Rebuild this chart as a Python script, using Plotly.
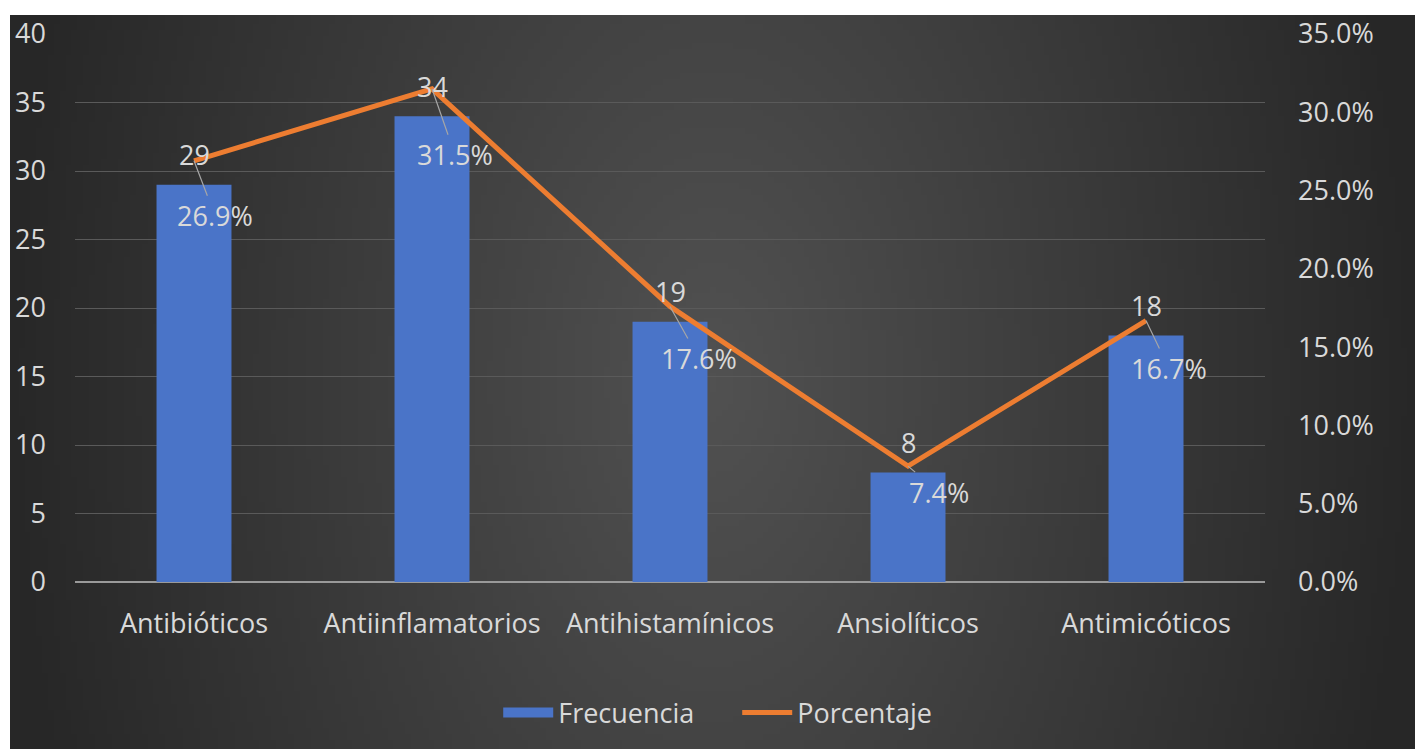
import base64
import struct
import zlib
import plotly.graph_objects as go

# ---- data ----
categories = ["Antibióticos", "Antiinflamatorios", "Antihistamínicos", "Ansiolíticos", "Antimicóticos"]
frecuencia = [29, 34, 19, 8, 18]
porcentaje = [0.269, 0.315, 0.176, 0.074, 0.167]
left_ticks = [0, 5, 10, 15, 20, 25, 30, 35, 40]
right_ticks = [0, 0.05, 0.10, 0.15, 0.20, 0.25, 0.30, 0.35]

# label offsets (pixels) for the percentage data labels
pct_label_dx = [21, 23, 29, 31, 23]
pct_label_dy = [55, 66, 52, 26, 48]

FONT = "Open Sans"
FS = 27
TXT = "#d9d9d9"
BLUE = "#4a74c8"


def radial_png(w=240, h=120):
    rows = []
    for j in range(h):
        row = bytearray([0])
        dy = (j + 0.5) / h * 2 - 1
        for i in range(w):
            dx = (i + 0.5) / w * 2 - 1
            r = min(1.0, (dx * dx + (dy * 0.32) ** 2) ** 0.5)
            v = int(round(81 - 42 * r))
            row += bytes([v, v, v])
        rows.append(bytes(row))
    raw = b"".join(rows)

    def chunk(tag, data):
        c = struct.pack(">I", len(data)) + tag + data
        return c + struct.pack(">I", zlib.crc32(tag + data) & 0xFFFFFFFF)

    png = b"\x89PNG\r\n\x1a\n"
    png += chunk(b"IHDR", struct.pack(">IIBBBBB", w, h, 8, 2, 0, 0, 0))
    png += chunk(b"IDAT", zlib.compress(raw, 9))
    png += chunk(b"IEND", b"")
    return "data:image/png;base64," + base64.b64encode(png).decode()


W, H = 1415, 749
L, T, R, B = 75, 34, 150, 167
PW, PH = W - L - R, H - T - B
BG_X0, BG_Y0 = 10, 15

fig = go.Figure()

fig.add_trace(go.Bar(
    x=categories, y=frecuencia, name="Frecuencia",
    marker=dict(color=BLUE, line=dict(width=0)),
    yaxis="y", showlegend=False, legendgroup="f",
))
# legend stand-in for the bar series (wide swatch like the original)
fig.add_trace(go.Scatter(
    x=[None], y=[None], name="Frecuencia", mode="lines",
    line=dict(color=BLUE, width=18), legendgroup="f", hoverinfo="skip",
))
fig.add_trace(go.Scatter(
    x=categories, y=porcentaje, name="Porcentaje", mode="lines",
    line=dict(color="#ed7d31", width=5),
    yaxis="y2",
))

annotations = []
for c, v in zip(categories, frecuencia):
    annotations.append(dict(
        x=c, y=v, xref="x", yref="y", text=str(v), showarrow=False,
        yshift=30, font=dict(family=FONT, size=FS, color=TXT),
    ))
for c, p, dx, dy in zip(categories, porcentaje, pct_label_dx, pct_label_dy):
    annotations.append(dict(
        x=c, y=p, xref="x", yref="y2", text=f"{p*100:.1f}%",
        showarrow=True, arrowhead=0, arrowwidth=1.2, arrowcolor="#a6a6a6",
        ax=dx, ay=dy, standoff=0,
        font=dict(family=FONT, size=FS, color=TXT),
    ))

fig.update_layout(
    width=W, height=H,
    paper_bgcolor="white",
    plot_bgcolor="rgba(0,0,0,0)",
    margin=dict(l=L, r=R, t=T, b=B),
    bargap=0.685,
    showlegend=True,
    legend=dict(
        orientation="h", xref="container", yref="container",
        x=0.521, y=1 - 713 / H, xanchor="center", yanchor="middle",
        font=dict(family=FONT, size=FS, color=TXT),
        bgcolor="rgba(0,0,0,0)", itemwidth=50,
        entrywidth=174, entrywidthmode="pixels",
        traceorder="normal",
    ),
    font=dict(family=FONT, size=FS, color=TXT),
    xaxis=dict(
        showgrid=False, showline=False, ticks="",
        tickfont=dict(family=FONT, size=FS, color=TXT),
        ticklabelstandoff=23,
    ),
    yaxis=dict(
        range=[0, 40], tickvals=left_ticks, showgrid=True,
        gridcolor="#5a5a5a", gridwidth=1,
        zeroline=True, zerolinecolor="#9a9a9a", zerolinewidth=2,
        showline=False, ticks="",
        tickfont=dict(family=FONT, size=FS, color=TXT),
        ticklabelstandoff=28,
    ),
    yaxis2=dict(
        range=[0, 0.35], tickvals=right_ticks, tickformat=".1%",
        overlaying="y", side="right", showgrid=False, zeroline=False,
        showline=False, ticks="",
        tickfont=dict(family=FONT, size=FS, color=TXT),
        ticklabelstandoff=32,
    ),
    annotations=annotations,
    images=[dict(
        source=radial_png(), xref="paper", yref="paper",
        x=-(L - BG_X0) / PW, y=1 + (T - BG_Y0) / PH,
        sizex=(W - BG_X0) / PW, sizey=(H - BG_Y0) / PH,
        xanchor="left", yanchor="top", sizing="stretch", layer="below",
    )],
)

fig.write_html(
    "out.html",
    config={"displayModeBar": False},
    post_script="document.body.style.margin='0';document.body.style.overflow='hidden';",
)
